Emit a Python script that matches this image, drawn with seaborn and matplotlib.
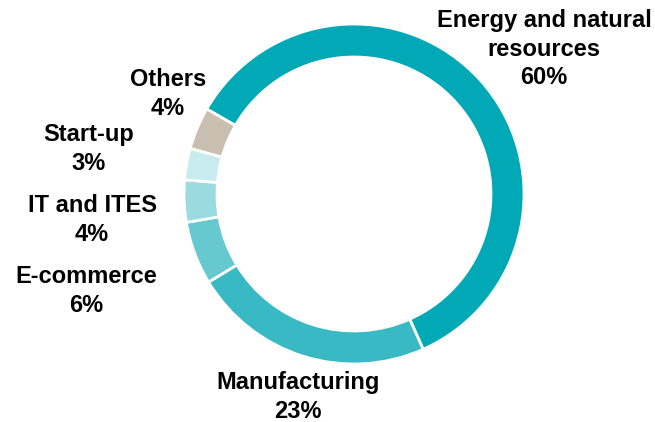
import matplotlib
matplotlib.use('Agg')
import matplotlib.pyplot as plt
import seaborn as sns

# dados do gráfico (sentido horário a partir do topo-esquerdo)
setores = ['Energy and natural\nresources', 'Manufacturing', 'E-commerce',
           'IT and ITES', 'Start-up', 'Others']
percentuais = [60, 23, 6, 4, 3, 4]
cores = ['#00A9B5', '#38B9C3', '#66C9D0', '#9ADBE0', '#C7EBEE', '#C8BFB1']

# posição dos rótulos (pixels, origem no topo-esquerdo)
pos_rotulos = [(544, 49), (298, 397), (86, 291), (92, 220), (89, 149), (168, 94)]

sns.set_theme(style='white')
plt.rcParams['font.family'] = ['Liberation Sans', 'DejaVu Sans']

W, H = 655, 422
fig = plt.figure(figsize=(W / 100, H / 100), dpi=100)
ax = fig.add_axes([0, 0, 1, 1])

ax.pie(percentuais, colors=cores, startangle=150, counterclock=False,
       center=(354, H - 194), radius=170, frame=False,
       wedgeprops=dict(width=33, edgecolor='white', linewidth=2))

# o pie redefine os limites, então ajustamos depois
ax.set_xlim(0, W)
ax.set_ylim(0, H)
ax.set_aspect('equal')
ax.axis('off')

for nome, valor, (x, y) in zip(setores, percentuais, pos_rotulos):
    ax.text(x, H - y, f'{nome}\n{valor}%', ha='center', va='center',
            fontsize=17, fontweight='bold', color='black', linespacing=1.32)

fig.savefig('out.png', dpi=100)
